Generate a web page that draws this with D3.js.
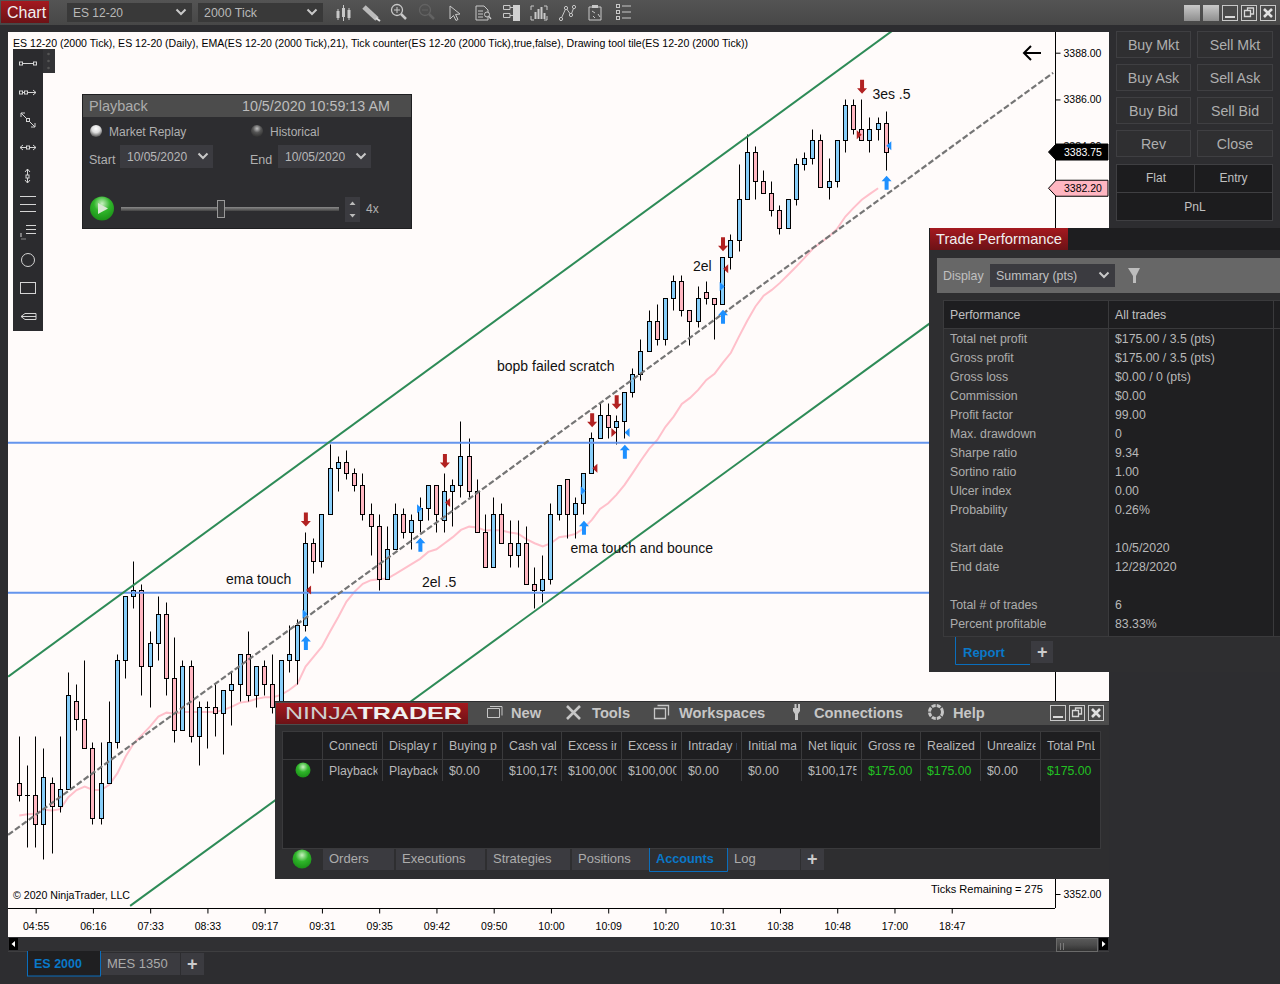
<!DOCTYPE html>
<html><head><meta charset="utf-8"><title>NinjaTrader ES 12-20</title>
<script src="https://cdnjs.cloudflare.com/ajax/libs/d3/7.8.5/d3.min.js"></script>
<style>html,body{margin:0;padding:0;background:#2d2d30;overflow:hidden}svg{display:block}text{font-family:"Liberation Sans",Arial,sans-serif;white-space:pre}</style>
</head><body><svg id="c" width="1280" height="984" viewBox="0 0 1280 984"></svg>
<script>
// ---------- price data (one value per 2000-tick bar) ----------
const opens=[3356.75,3356.25,3356.25,3355.0,3356.75,3355.75,3356.5,3360.25,3359.5,3358.25,
3355.25,3356.75,3358.5,3362.0,3364.75,3365.0,3361.75,3362.75,3364.0,3361.25,
3359.0,3361.75,3358.75,3360.0,3360.0,3359.75,3360.75,3361.0,3362.25,3360.5,
3361.75,3361.0,3360.0,3362.0,3362.0,3363.5,3367.0,3366.25,3368.25,3370.25,
3370.5,3370.0,3369.5,3368.25,3367.75,3365.5,3366.75,3368.25,3367.5,3368.0,
3368.5,3369.5,3368.0,3369.25,3369.5,3370.75,3369.25,3367.5,3366.0,3368.25,
3367.0,3366.5,3367.0,3365.25,3365.0,3365.5,3368.25,3369.75,3368.25,3368.75,
3370.0,3371.5,3372.5,3372.0,3372.25,3373.5,3374.25,3375.25,3376.5,3375.75,
3377.5,3378.25,3377.0,3376.5,3377.75,3377.5,3377.25,3379.25,3380.0,3381.75,
3383.75,3382.5,3382.0,3381.25,3380.5,3381.75,3383.25,3383.5,3384.25,3382.25,
3382.5,3384.25,3385.75,3384.75,3384.25,3384.75,3385.0];
const highs=[3358.75,3357.5,3358.75,3358.25,3357.0,3358.75,3361.5,3361.0,3362.0,3358.5,
3358.5,3360.25,3362.25,3364.75,3366.25,3365.25,3363.25,3364.75,3364.5,3363.0,
3362.0,3362.0,3360.25,3360.25,3361.0,3360.75,3361.5,3362.25,3363.25,3361.75,
3362.0,3362.25,3362.0,3363.5,3363.75,3367.5,3367.25,3368.25,3371.25,3370.75,
3371.0,3370.25,3370.0,3368.75,3368.25,3367.75,3368.75,3368.5,3368.25,3369.0,
3369.5,3369.5,3370.0,3369.75,3372.25,3371.5,3369.75,3368.25,3369.0,3368.75,
3368.0,3368.0,3367.75,3366.0,3366.5,3368.75,3369.5,3369.75,3369.0,3370.0,
3371.75,3373.0,3373.0,3372.5,3373.5,3374.5,3375.75,3377.0,3377.25,3377.5,
3378.5,3378.5,3377.0,3378.0,3378.25,3377.5,3379.25,3380.25,3383.25,3384.5,
3384.0,3383.0,3382.5,3381.5,3381.75,3383.5,3383.75,3384.75,3384.5,3383.5,
3384.25,3386.0,3386.0,3386.0,3385.25,3385.25,3385.5];
const lows=[3356.0,3354.0,3354.0,3353.5,3353.75,3355.5,3356.5,3359.0,3358.25,3355.0,
3355.0,3356.75,3358.25,3361.25,3364.25,3360.5,3360.0,3362.0,3360.5,3358.5,
3359.0,3358.5,3357.5,3358.25,3358.75,3358.0,3359.25,3360.25,3360.25,3360.0,
3360.5,3359.75,3360.0,3361.5,3361.0,3363.25,3365.75,3366.0,3368.25,3369.25,
3369.75,3369.25,3368.0,3366.5,3365.0,3365.5,3366.75,3367.25,3366.75,3367.5,
3368.0,3367.5,3367.5,3367.75,3369.0,3369.0,3367.5,3366.0,3366.0,3367.0,
3366.0,3366.0,3365.25,3364.25,3364.5,3365.25,3368.0,3367.25,3367.25,3368.25,
3370.0,3371.5,3371.5,3371.25,3371.5,3373.25,3374.0,3375.25,3375.5,3375.5,
3377.0,3376.75,3375.5,3376.25,3377.25,3375.75,3377.25,3378.75,3379.5,3381.75,
3381.75,3382.0,3381.0,3380.25,3380.5,3381.5,3383.0,3383.25,3382.25,3381.75,
3382.25,3383.75,3384.5,3384.25,3383.75,3384.25,3383.0];
const closes=[3356.25,3356.25,3355.0,3357.0,3355.75,3356.5,3360.5,3359.5,3358.25,3355.25,
3356.75,3358.5,3362.0,3364.75,3365.0,3361.75,3362.75,3364.0,3361.25,3359.0,
3361.75,3358.75,3360.0,3360.0,3359.75,3360.75,3361.0,3362.25,3360.5,3361.75,
3361.0,3360.0,3362.0,3362.25,3363.5,3367.0,3366.25,3368.25,3370.25,3370.5,
3370.0,3369.5,3368.25,3367.75,3365.5,3366.75,3368.25,3367.5,3368.0,3368.5,
3369.5,3368.25,3369.25,3369.5,3370.75,3369.25,3367.5,3366.0,3368.25,3367.0,
3366.5,3367.0,3365.25,3365.0,3365.5,3368.25,3369.5,3368.25,3368.75,3370.0,
3371.5,3372.5,3372.0,3372.25,3373.5,3374.25,3375.25,3376.5,3375.75,3377.5,
3378.25,3377.0,3376.5,3377.5,3377.5,3377.25,3379.25,3380.0,3381.75,3383.75,
3382.5,3382.0,3381.25,3380.5,3381.75,3383.25,3383.5,3384.25,3382.25,3382.5,
3384.25,3385.75,3384.75,3384.25,3384.75,3385.0,3383.75];
const ema21=[3355.36,3355.41,3355.43,3355.60,3355.57,3355.63,3356.14,3356.45,3356.60,3356.45,
3356.45,3356.67,3357.17,3357.88,3358.45,3358.81,3359.17,3359.59,3359.76,3359.71,
3359.79,3359.79,3359.79,3359.79,3359.79,3359.88,3360.02,3360.19,3360.24,3360.35,
3360.42,3360.42,3360.52,3360.73,3360.99,3361.73,3362.16,3362.58,3363.23,3363.85,
3364.51,3364.94,3365.27,3365.43,3365.47,3365.50,3365.70,3365.91,3366.13,3366.34,
3366.64,3366.75,3367.01,3367.27,3367.58,3367.72,3367.68,3367.55,3367.58,3367.55,
3367.47,3367.42,3367.18,3367.01,3366.87,3367.01,3367.27,3367.32,3367.41,3367.65,
3368.01,3368.48,3368.72,3369.08,3369.51,3370.02,3370.55,3371.05,3371.43,3371.99,
3372.43,3372.97,3373.23,3373.57,3374.0,3374.26,3374.73,3375.16,3375.86,3376.53,
3377.14,3377.60,3377.85,3378.15,3378.50,3378.85,3379.22,3379.61,3379.88,3380.14,
3380.47,3380.99,3381.36,3381.71,3381.96,3382.20];
const priceTicks=[3388,3386,3384,3352];
const timeTickBars=[2,9,16,23,30,37,44,51,58,65,72,79,86,93,100,107,114];
const timeTickLabels=["04:55","06:16","07:33","08:33","09:17","09:31","09:35","09:42","09:50","10:00","10:09","10:20","10:31","10:38","10:48","17:00","18:47"];
const lastPrice=3383.75, lastEma=3382.20;
const horizontalLevels=[3371.31,3364.89];
const channelUpper=[[-1.37,3361.30],[106.7,3388.93]];
const channelLower=[[13.55,3351.49],[111.36,3376.43]];
const channelMiddle=[[-1.37,3354.53],[126.4,3387.14]];
const downArrows=[[35,3368.03],[52,3370.53],[70,3372.27],[73,3373.04],[86,3379.80],[103,3386.54]];
const upArrows=[[35,3362.74],[49,3366.95],[69,3367.67],[74,3370.92],[86,3376.70],[106,3382.43]];
const entryBlueRight=[[35,3363.98],[49,3368.49],[69,3369.26],[86,3378.0]];
const entryBlueLeft=[[74,3371.75],[106,3384.02]];
const exitRedLeft=[[35,3365.01],[52,3368.75],[70,3370.22],[86,3378.75]];
const exitRedRight=[[73,3371.75],[103,3384.49]];
const annotations=[["ema touch",25.27,3365.27],["2el .5",49.24,3365.14],["bopb failed scratch",58.4,3374.38],["ema touch and bounce",67.4,3366.59],["2el",82.37,3378.66],["3es .5",104.3,3386.02]];
const tradeRows=[["Total net profit","$175.00 / 3.5 (pts)"],["Gross profit","$175.00 / 3.5 (pts)"],["Gross loss","$0.00 / 0 (pts)"],["Commission","$0.00"],["Profit factor","99.00"],["Max. drawdown","0"],["Sharpe ratio","9.34"],["Sortino ratio","1.00"],["Ulcer index","0.00"],["Probability","0.26%"],["",""],["Start date","10/5/2020"],["End date","12/28/2020"],["",""],["Total # of trades","6"],["Percent profitable","83.33%"]];
const acctHeaders=["Connecti","Display r","Buying p","Cash val","Excess ir","Excess ir","Intraday r","Initial ma","Net liquic","Gross re","Realized","Unrealize","Total PnL"];
const acctValues=["Playback","Playback","$0.00","$100,175","$100,000","$100,000","$0.00","$0.00","$100,175","$175.00","$175.00","$0.00","$175.00"];
const acctGreen=[9,10,12];
const acctCols=[322.5,382.5,442.5,502.5,561.5,621.5,681.5,741.5,801.5,861.5,920.5,980.5,1040.5,1100];

// ---------- scales ----------
const x=d3.scaleLinear().domain([0,106]).range([19.3,886.3]);
const y=d3.scaleLinear().domain([3352,3388]).range([894,52.7]);
const px=v=>Math.floor(x(v))+0.5, py=v=>Math.round(y(v))+0.5;

const svg=d3.select("#c");
const defs=svg.append("defs");
function grad(id,stops,vert=true){const g=defs.append("linearGradient").attr("id",id).attr("x1",0).attr("y1",0).attr("x2",vert?0:1).attr("y2",vert?1:0);stops.forEach(s=>g.append("stop").attr("offset",s[0]).attr("stop-color",s[1]));}
grad("red",[[0,"#a5191f"],[1,"#6c1216"]]);
grad("tool",[[0,"#545454"],[1,"#474747"]]);
grad("graybtn",[[0,"#c9c9c9"],[1,"#8e8e8e"]]);
grad("thumb",[[0,"#5a5a5a"],[.5,"#4a4a4a"],[1,"#2f2f2f"]]);
grad("slider",[[0,"#8a8a8a"],[1,"#444"]]);
const rg=(id,a,b,c)=>{const g=defs.append("radialGradient").attr("id",id).attr("cx",.5).attr("cy",.3).attr("r",.75);g.append("stop").attr("offset",0).attr("stop-color",a);g.append("stop").attr("offset",.45).attr("stop-color",b);g.append("stop").attr("offset",1).attr("stop-color",c);};
rg("ball","#c8f0c0","#2fb52a","#178a14");
rg("radioOn","#ffffff","#dddddd","#3a3a3a");
rg("radioOff","#c0c0c0","#555555","#2a2a2a");

function R(p,X,Y,W,H,f,s){return p.append("rect").attr("x",X).attr("y",Y).attr("width",W).attr("height",H).attr("fill",f).attr("stroke",s||"none");}
function T(p,t,X,Y,size,fill,o={}){const e=p.append("text").attr("x",X).attr("y",Y).attr("font-size",size).attr("fill",fill).text(t);if(o.anchor)e.attr("text-anchor",o.anchor);if(o.bold)e.attr("font-weight","bold");if(o.len)e.attr("textLength",o.len).attr("lengthAdjust","spacingAndGlyphs");if(o.clip)e.attr("clip-path",o.clip);return e;}
function L(p,d,s,w,f){return p.append("path").attr("d",d).attr("stroke",s).attr("stroke-width",w||1).attr("fill",f||"none");}
function chev(p,cx,cy,col){L(p,`M${cx-4.5} ${cy-2.5}L${cx} ${cy+2}L${cx+4.5} ${cy-2.5}`,col||"#c8c8c8",2);}

// page base
R(svg,0,0,1280,984,"#2d2d30");

// ---------- chart area ----------
const chart=svg.append("g");
R(chart,8,32,1101,905,"#fffbfa");
defs.append("clipPath").attr("id","plot").append("rect").attr("x",8).attr("y",32).attr("width",1047).attr("height",876);
const plot=chart.append("g").attr("clip-path","url(#plot)");
const bars=d3.range(opens.length);
const lineGen=d3.line().x(d=>x(d[0])).y(d=>y(d[1]));

// EMA
plot.append("path").datum(ema21.map((v,i)=>[i,v])).attr("d",lineGen).attr("fill","none").attr("stroke","#ffc0cb").attr("stroke-width",2);

// wicks and bodies
plot.selectAll(".wick").data(bars).enter().append("line").attr("class","wick")
 .attr("x1",px).attr("x2",px).attr("y1",i=>py(highs[i])).attr("y2",i=>py(lows[i])).attr("stroke","#000").attr("stroke-width",1);
plot.selectAll(".body").data(bars.filter(i=>opens[i]!==closes[i])).enter().append("rect").attr("class","body")
 .attr("x",i=>px(i)-2).attr("width",4)
 .attr("y",i=>py(Math.max(opens[i],closes[i])))
 .attr("height",i=>py(Math.min(opens[i],closes[i]))-py(Math.max(opens[i],closes[i])))
 .attr("fill",i=>closes[i]>opens[i]?"#87cefa":"#ffb6c1").attr("stroke","#000").attr("stroke-width",1);
plot.selectAll(".doji").data(bars.filter(i=>opens[i]===closes[i])).enter().append("line").attr("class","doji")
 .attr("x1",i=>px(i)-2.5).attr("x2",i=>px(i)+2.5).attr("y1",i=>py(opens[i])).attr("y2",i=>py(opens[i])).attr("stroke","#000");

// drawing objects
horizontalLevels.forEach(v=>plot.append("line").attr("x1",8).attr("x2",1055).attr("y1",y(v)).attr("y2",y(v)).attr("stroke","#6495ed").attr("stroke-width",2));
[channelUpper,channelLower].forEach(c=>plot.append("path").datum(c).attr("d",lineGen).attr("fill","none").attr("stroke","#2e8b57").attr("stroke-width",2));
plot.append("path").datum(channelMiddle).attr("d",lineGen).attr("fill","none").attr("stroke","#757575").attr("stroke-width",2.2).attr("stroke-dasharray","6 2.5");

// signal arrows
const arrow=(dir,col)=>d=>{const X=x(d[0])+0.3,Y=y(d[1]),s=dir;
 plot.append("path").attr("fill",col).attr("d",`M${X-2} ${Y-7*s+5.5*s}L${X-2} ${Y+7*s}L${X+2} ${Y+7*s}L${X+2} ${Y-7*s+5.5*s}L${X+5} ${Y-7*s+5.5*s}L${X} ${Y-7*s}L${X-5} ${Y-7*s+5.5*s}Z`);};
upArrows.forEach(arrow(1,"#1e90ff"));
downArrows.forEach(arrow(-1,"#b22222"));
const tri=(dir,col,off)=>d=>{const X=x(d[0])+off,Y=y(d[1]);plot.append("path").attr("fill",col).attr("d",`M${X} ${Y-4.5}L${X+dir*5} ${Y}L${X} ${Y+4.5}Z`);};
entryBlueRight.forEach(tri(1,"#1e90ff",-3));
entryBlueLeft.forEach(tri(-1,"#1e90ff",5));
exitRedLeft.forEach(tri(-1,"#b22222",5.5));
exitRedRight.forEach(tri(1,"#b22222",-5));

// annotations
annotations.forEach(a=>T(plot,a[0],x(a[1]),y(a[2]),14,"#111"));
L(plot,"M1041 53H1024M1031 46L1024 53L1031 60","#000",2);

// axes
const yAxis=d3.axisRight(y).tickValues(priceTicks).tickFormat(d3.format(".2f")).tickSize(5).tickPadding(3);
const gy=chart.append("g").attr("transform","translate(1055.5,0)").call(yAxis);
gy.select(".domain").attr("d","M0 32V908").attr("stroke","#000");
gy.selectAll("text").attr("font-size",10.5).attr("fill","#000").attr("font-family",'"Liberation Sans"');
const gx=chart.append("g").attr("transform","translate(0,908.5)").call(d3.axisBottom(x).tickValues(timeTickBars).tickFormat((d,i)=>timeTickLabels[i]).tickSize(5).tickPadding(9));
gx.select(".domain").attr("d","M8 0H1055").attr("stroke","#000");
gx.selectAll("text").attr("font-size",10.5).attr("fill","#000").attr("font-family",'"Liberation Sans"');

// header and corners
T(chart,"ES 12-20 (2000 Tick), ES 12-20 (Daily), EMA(ES 12-20 (2000 Tick),21), Tick counter(ES 12-20 (2000 Tick),true,false), Drawing tool tile(ES 12-20 (2000 Tick))",13,47,10.5,"#000",{len:735});
T(chart,"© 2020 NinjaTrader, LLC",13,899,10.5,"#000",{len:117});
T(chart,"Ticks Remaining = 275",931,892.5,10.5,"#000",{len:112});

// price flags
const flag=(v,f,tc)=>{const Y=y(v);chart.append("path").attr("d",`M1048.5 ${Y}L1056 ${Y-8}H1108V${Y+8}H1056Z`).attr("fill",f).attr("stroke","#000");
 T(chart,d3.format(".2f")(v),1064,Y+4,10.5,tc);};
flag(lastPrice,"#000","#fff");
flag(lastEma,"#ffb6c1","#000");

// scrollbar
R(svg,8,937,1101,14,"#303033");
L(svg,"M8 951.5H1109","#3e3e40",1);
R(svg,9,938,9,12,"#000");svg.append("path").attr("d","M15 941V947L11.5 944Z").attr("fill","#fff");
R(svg,1099,938,9,12,"#000");svg.append("path").attr("d","M1102 941V947L1105.5 944Z").attr("fill","#fff");
R(svg,1056.5,938.5,41,13,"url(#thumb)","#6a6a6a");
L(svg,"M1060.5 943V950M1063.5 943V950","#7a7a7a",1);

// chart tabs
R(svg,27.5,950,73,26,"#1f1f21","#0a6ebd");R(svg,26,945,76,6,"#303033");
T(svg,"ES 2000",34,968,12.5,"#0a78c8",{bold:true});
R(svg,101,953,79,22,"#3b3b40");T(svg,"MES 1350",107,968,13,"#aaa");
R(svg,181,953,23,22,"#3b3b40");T(svg,"+",187,970,18,"#ccc",{bold:true});

// ---------- top toolbar ----------
R(svg,0,0,1280,25,"url(#tool)");
R(svg,0,25,1280,7,"#2d2d30");
R(svg,1,1,48,22,"url(#red)");T(svg,"Chart",7,18,16,"#f0f0f0");
R(svg,67,3,125,19,"#393939");T(svg,"ES 12-20",73,17,12,"#b8b8b8");chev(svg,181,12);
R(svg,198,3,125,19,"#393939");T(svg,"2000 Tick",204,17,12.4,"#b8b8b8");chev(svg,312,12);
const ic="#c8c8c8";
const tb=svg.append("g");
// candles
[[338,9,20,11,18],[343.5,5,21,8,17],[349,8,20,10,18]].forEach(b=>{L(tb,`M${b[0]} ${b[1]}V${b[2]}`,ic,1);R(tb,b[0]-1.5,b[3],3,b[4]-b[3],ic);});
// pencil
L(tb,"M364 7L377 19","#bbb",5);L(tb,"M376 18L380 21","#ddd",2);
// zoom in/out
tb.append("circle").attr("cx",397).attr("cy",10).attr("r",5.5).attr("fill","none").attr("stroke",ic).attr("stroke-width",1.3);
L(tb,"M394 10H400M397 7V13",ic,1);L(tb,"M401 14L406 19",ic,2.5);
tb.append("circle").attr("cx",425).attr("cy",10).attr("r",5.5).attr("fill","none").attr("stroke","#636363").attr("stroke-width",1.3);
L(tb,"M422 10H428","#636363",1);L(tb,"M429 14L434 19","#636363",2.5);
// cursor
L(tb,"M450 6V19L453.5 15.5L456 20.5L458 19.5L455.5 14.5L460 14Z",ic,1);
// doc search
L(tb,"M476 6H484L488 10V20H476Z",ic,1);L(tb,"M478 11H483M478 14H483M478 17H483",ic,1);
tb.append("circle").attr("cx",487).attr("cy",14.5).attr("r",2.5).attr("fill","#4a4a4a").attr("stroke",ic);L(tb,"M489 16.5L491 19",ic,1.3);
// columns
R(tb,513,5,7,16,"#d0d0d0");L(tb,"M503.5 5.5H510V9.5H503.5ZM503.5 13.5H510V17.5H503.5ZM510 7.5H513M510 15.5H513",ic,1);
// bars in brackets
L(tb,"M531 10V6H534M544 6H547V10M547 16V20H544M534 20H531V16",ic,1);
[[535,12,19],[538,9,19],[541,7,19],[544,13,19]].forEach(b=>R(tb,b[0]-.5,b[1],2,b[2]-b[1],ic));
// nodes
L(tb,"M561 19L566 8L571 15L574 7",ic,1);[[561,19],[566,8],[571,15],[574,7]].forEach(c=>tb.append("circle").attr("cx",c[0]).attr("cy",c[1]).attr("r",1.6).attr("fill","#4a4a4a").attr("stroke",ic));
// clipboard
L(tb,"M589 7H601V20H589Z",ic,1);R(tb,592,5,6,3,ic);L(tb,"M592 11L595 13M598 14L600 17M593 16L595 18",ic,1);
// list
[6,12,18].forEach(v=>{R(tb,616.5,v-1.5,3,3,"none",ic);L(tb,`M622 ${v}H631`,ic,1);});
// window buttons
R(svg,1184,5,16,16,"url(#graybtn)");R(svg,1203,5,16,16,"url(#graybtn)");
function winBtns(p,xs,yy){xs.forEach((X,k)=>{R(p,X+.5,yy+.5,15,15,"#4a4a4a","#c8c8c8");
 if(k==0)R(p,X+3,yy+11,10,2,"#d8d8d8");
 if(k==1)L(p,`M${X+3.5} ${yy+5.5}h6v6h-6zM${X+6.5} ${yy+5.5}v-2.5h6v6h-3`,"#d8d8d8",1.3);
 if(k==2)L(p,`M${X+4} ${yy+4}L${X+12} ${yy+12}M${X+12} ${yy+4}L${X+4} ${yy+12}`,"#e0e0e0",2.6);});}
winBtns(svg,[1222,1241,1260],5);

// ---------- order panel ----------
R(svg,1109,25,171,200,"#2d2d30");R(svg,1109,672,171,312,"#2d2d30");
const orderRows=[["Buy Mkt","Sell Mkt"],["Buy Ask","Sell Ask"],["Buy Bid","Sell Bid"],["Rev","Close"]];
orderRows.forEach((r,k)=>{const Y=31+33*k;
 R(svg,1116.5,Y+.5,74,26,"#2f2f31","#3f3f42");R(svg,1197.5,Y+.5,75,26,"#2f2f31","#3f3f42");
 T(svg,r[0],1153.5,Y+19,14.2,"#aeaeae",{anchor:"middle"});T(svg,r[1],1235,Y+19,14.2,"#aeaeae",{anchor:"middle"});});
R(svg,1116.5,164.5,156,56,"#1c1c1e","#3f3f42");L(svg,"M1116 192.5H1273M1194.5 164V192","#3f3f42",1);
T(svg,"Flat",1156,182,12,"#c0c0c0",{anchor:"middle"});T(svg,"Entry",1233.5,182,12,"#c0c0c0",{anchor:"middle"});T(svg,"PnL",1195,211,12,"#c0c0c0",{anchor:"middle"});

// ---------- palette ----------
const pal=svg.append("g");
R(pal,13,49,30,282,"#2b2b2e");R(pal,43,49,12,24,"#333336");
[54,61,68].forEach(v=>pal.append("circle").attr("cx",48.5).attr("cy",v).attr("r",1.3).attr("fill","#555"));
const pc="#d4d4d4";
L(pal,"M20 63.5H36",pc);[21,35].forEach(X=>R(pal,X-1.5,62,3,3,"#2b2b2e",pc));
L(pal,"M20 92.5H36M33 90L36 92.5L33 95",pc);[21,26].forEach(X=>R(pal,X-1.5,91,3,3,"#2b2b2e",pc));
L(pal,"M21 113L35 127M21 117V113H25M35 123V127H31",pc);R(pal,26.5,118.5,3,3,"#2b2b2e",pc);
L(pal,"M20 147.5H36M23 145L20 147.5L23 150M33 145L36 147.5L33 150",pc);R(pal,26.5,146,3,3,"#2b2b2e",pc);
L(pal,"M27.5 169V183M25 172L27.5 169L30 172M25 180L27.5 183L30 180",pc);R(pal,26,175,3,3,"#2b2b2e",pc);
L(pal,"M20 196.5H36M20 204.5H36M20 211.5H36",pc);
L(pal,"M26 225.5H36M26 229.5H36M26 233.5H36M21 237V233",pc);L(pal,"M21 239H26","#888");
pal.append("circle").attr("cx",28).attr("cy",260).attr("r",6.5).attr("fill","none").attr("stroke",pc);
R(pal,20.5,282.5,15,11,"none",pc);
L(pal,"M21 316.5H36M25 313.5H36V319.5H25L21 316.5Z",pc);

// ---------- playback ----------
const pb=svg.append("g");
R(pb,82.5,94.5,329,134,"#2d2d30","#1f1f21");R(pb,83,95,328,22,"#4c4c4c");
T(pb,"Playback",89,111,14.5,"#acacac");T(pb,"10/5/2020 10:59:13 AM",242,111,14.3,"#bcbcbc");
pb.append("circle").attr("cx",96).attr("cy",131).attr("r",6).attr("fill","url(#radioOn)");
pb.append("circle").attr("cx",257).attr("cy",131).attr("r",6).attr("fill","url(#radioOff)");
T(pb,"Market Replay",109,136,12,"#b0b0b0");T(pb,"Historical",270,136,12,"#b0b0b0");
T(pb,"Start",89,164,12.5,"#b0b0b0");T(pb,"End",250,164,12.5,"#b0b0b0");
R(pb,120,145,93,23,"#3b3b40");R(pb,278,145,93,23,"#3b3b40");
T(pb,"10/05/2020",127,161,12,"#b8b8b8");T(pb,"10/05/2020",285,161,12,"#b8b8b8");chev(pb,203,156);chev(pb,361,156);
pb.append("circle").attr("cx",102).attr("cy",208.5).attr("r",12).attr("fill","url(#ball)");
pb.append("path").attr("d","M98 203V214L108 208.5Z").attr("fill","#d9e8d4");
R(pb,121,207,218,4,"url(#slider)");R(pb,217.5,200.5,7,17,"#3a3a3c","#999");
R(pb,345,197,15,25,"#3b3b40");pb.append("path").attr("d","M349.5 205L352.5 201.5L355.5 205ZM349.5 214L352.5 217.5L355.5 214Z").attr("fill","#bbb");
T(pb,"4x",366,213,12,"#b0b0b0");

// ---------- trade performance ----------
const tp=svg.append("g");
R(tp,929,228,351,444,"#2e2e30");
R(tp,929,228,351,22,"#1e1e20");
R(tp,930,228,138,22,"url(#red)");T(tp,"Trade Performance",936,244,15,"#f0f0f0",{len:126});
R(tp,937,258,343,35,"#676767");
T(tp,"Display",943,280,12.4,"#c0c0c0");R(tp,990,264,125,23,"#3b3b40");T(tp,"Summary (pts)",996,280,12.4,"#c0c0c0");chev(tp,1104,275);
tp.append("path").attr("d","M1128 268H1140L1136 276V283H1133V276Z").attr("fill","#bdbdbd");
R(tp,943.5,300.5,337,336,"#1e1e20","#3a3a3c");
R(tp,944,329,164,307,"#2c2c2e");R(tp,1109,329,164,307,"#1f1f21");
L(tp,"M944 328.5H1280M1108.5 301V636M1273.5 301V636","#3a3a3c",1);
T(tp,"Performance",950,319,12.3,"#c0c0c0");T(tp,"All trades",1115,319,12.3,"#c0c0c0");
tradeRows.forEach((r,k)=>{const Y=343+19*k;T(tp,r[0],950,Y,12.3,"#acacac");T(tp,r[1],1115,Y,12.3,"#b8b8b8");});
R(tp,956,637,74,28,"#2e2e30");L(tp,"M955.5 637V664.5H1030","#0a6ebd",1);
T(tp,"Report",963,657,13,"#0a78c8",{bold:true});
R(tp,1031,641,22,22,"#3b3b40");T(tp,"+",1037,658,18,"#ccc",{bold:true});

// ---------- control center ----------
const nt=svg.append("g");
R(nt,275,701,834,178,"#2e2e30");
R(nt,275,702,834,23,"#4c4c4c");
R(nt,276,703,192,21,"url(#red)");
const logo=nt.append("text").attr("x",285).attr("y",718.5).attr("font-size",17).attr("textLength",177).attr("lengthAdjust","spacingAndGlyphs");
logo.append("tspan").text("NINJA").attr("font-weight","normal").attr("fill","#cfcfcf");logo.append("tspan").text("TRADER").attr("font-weight","bold").attr("fill","#f0f0f0");
const menu=[["New",511],["Tools",592],["Workspaces",679],["Connections",814],["Help",953]];
menu.forEach(m=>T(nt,m[0],m[1],718,14.7,"#c6c6c6",{bold:true}));
L(nt,"M487.5 708.5h12v9h-12zM490 706.5h12v9","#c6c6c6",1);
L(nt,"M567 706L580 719M580 706L570 716M567 719L570 716","#c6c6c6",2.6);
L(nt,"M654.5 708.5h11v10h-11zM657.5 705.5h11v10","#c6c6c6",1.3);
nt.append("path").attr("d","M793 704V708H794.5V704H796.5V708H798V704H800V711L798 714V720H795V714L793 711Z").attr("fill","#c6c6c6");
nt.append("circle").attr("cx",936).attr("cy",712).attr("r",6.5).attr("fill","none").attr("stroke","#c6c6c6").attr("stroke-width",3).attr("stroke-dasharray","4 1.1");
winBtns(nt,[1050,1069,1088],705);
R(nt,282.5,731.5,818,117,"#1e1e20","#3a3a3c");
L(nt,"M283 759.5H1100","#3a3a3c",1);
acctCols.slice(0,-1).forEach(X=>L(nt,`M${X} 732V781`,"#3a3a3c",1));
acctHeaders.forEach((t,k)=>{const cx=acctCols[k],w=acctCols[k+1]-cx,id="ac"+k;
 defs.append("clipPath").attr("id",id).append("rect").attr("x",cx).attr("y",732).attr("width",w-5).attr("height",50);
 T(nt,t,cx+6.5,750,12.3,"#b8b8b8",{clip:`url(#${id})`});
 T(nt,acctValues[k],cx+6.5,775,12.3,acctGreen.includes(k)?"#22c022":"#b8b8b8",{clip:`url(#${id})`});});
nt.append("circle").attr("cx",303).attr("cy",770).attr("r",7.5).attr("fill","url(#ball)");
nt.append("circle").attr("cx",302).attr("cy",859).attr("r",9.5).attr("fill","url(#ball)");
const ntTabs=[["Orders",323,394],["Executions",396,485],["Strategies",487,570],["Positions",572,649],["Log",728,800]];
ntTabs.forEach(t=>{R(nt,t[1],849,t[2]-t[1],21,"#3b3b40");T(nt,t[0],t[1]+6,863,13,"#acacac");});
R(nt,801,849,23,21,"#3b3b40");T(nt,"+",807,865,18,"#ccc",{bold:true});
L(nt,"M649.5 848V871.5H727.5V848","#0a6ebd",1);
T(nt,"Accounts",656,863,12.7,"#0a78c8",{bold:true});
</script></body></html>
